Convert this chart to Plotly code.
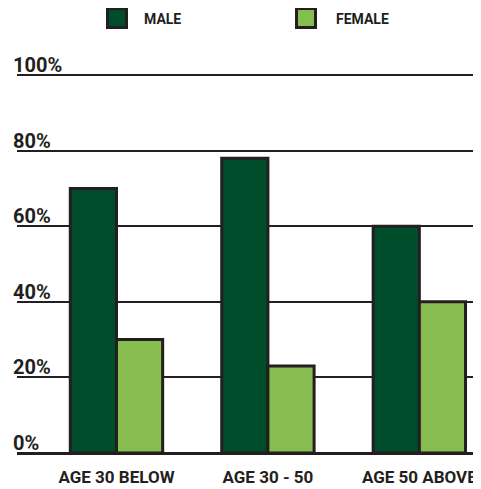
import plotly.graph_objects as go

categories = ["AGE 30 BELOW", "AGE 30 - 50", "AGE 50 ABOVE"]
male = [70, 78, 60]
female = [30, 23, 40]
y_ticks = [0, 20, 40, 60, 80, 100]
y_tick_labels = ["0%", "20%", "40%", "60%", "80%", "100%"]

MALE_C = "#004d2b"
FEMALE_C = "#86bc50"
INK = "#231f20"
FONT = "Roboto, DejaVu Sans Condensed, sans-serif"

# page is shown with an 8px body margin; layout numbers below target screen px
OFF = 8
W, H = 481, 489 - OFF
ML, MR, MT, MB = 17 - OFF, 7 + OFF, 70 - OFF, 30
PW, PH = W - ML - MR, H - MT - MB

def px2paper_x(px):
    return (px - OFF - ML) / PW

def px2paper_y(py):
    return (H - MB - (py - OFF)) / PH

def f(size):
    return dict(family=FONT, size=size, color=INK, weight="bold")

fig = go.Figure()
xs = list(range(len(categories)))
fig.add_trace(go.Bar(x=xs, y=male, name="MALE", marker=dict(color=MALE_C, line=dict(color=INK, width=3))))
fig.add_trace(go.Bar(x=xs, y=female, name="FEMALE", marker=dict(color=FEMALE_C, line=dict(color=INK, width=3))))

annotations = []
for v, t in zip(y_ticks, y_tick_labels):
    annotations.append(dict(x=0, xref="paper", xanchor="left", xshift=-6,
                            y=v, yref="y", yanchor="bottom", yshift=-4,
                            text=t, showarrow=False, font=f(20)))

shapes = []
legend_items = [("MALE", MALE_C, 117, 162), ("FEMALE", FEMALE_C, 306, 362)]
for name, col, cx, tx in legend_items:
    shapes.append(dict(type="rect", xref="paper", yref="paper",
                       x0=px2paper_x(cx - 9.5), x1=px2paper_x(cx + 9.5),
                       y0=px2paper_y(18 + 9.5), y1=px2paper_y(18 - 9.5),
                       fillcolor=col, line=dict(color=INK, width=3)))
    annotations.append(dict(x=px2paper_x(tx), xref="paper", xanchor="center",
                            y=px2paper_y(19), yref="paper", yanchor="middle",
                            text=name, showarrow=False, font=f(14)))

fig.update_layout(
    width=W, height=H,
    margin=dict(l=ML, r=MR, t=MT, b=MB),
    paper_bgcolor="white", plot_bgcolor="white",
    barmode="group", bargap=0.39, bargroupgap=0,
    showlegend=False,
    font=dict(family=FONT, color=INK),
    xaxis=dict(range=[-0.657, 2.361], tickvals=xs, ticktext=categories,
               showgrid=False, zeroline=False, showline=False, ticks="",
               ticklabelstandoff=6, automargin=False, ticklabeloverflow="allow",
               tickfont=f(17)),
    yaxis=dict(range=[-1.587, 101.32], tickvals=y_ticks, showticklabels=False,
               showgrid=True, gridcolor=INK, gridwidth=1.5,
               zeroline=True, zerolinecolor=INK, zerolinewidth=3,
               showline=False, ticks="", automargin=False),
    annotations=annotations,
    shapes=shapes,
)

fig.write_html("out.html")
